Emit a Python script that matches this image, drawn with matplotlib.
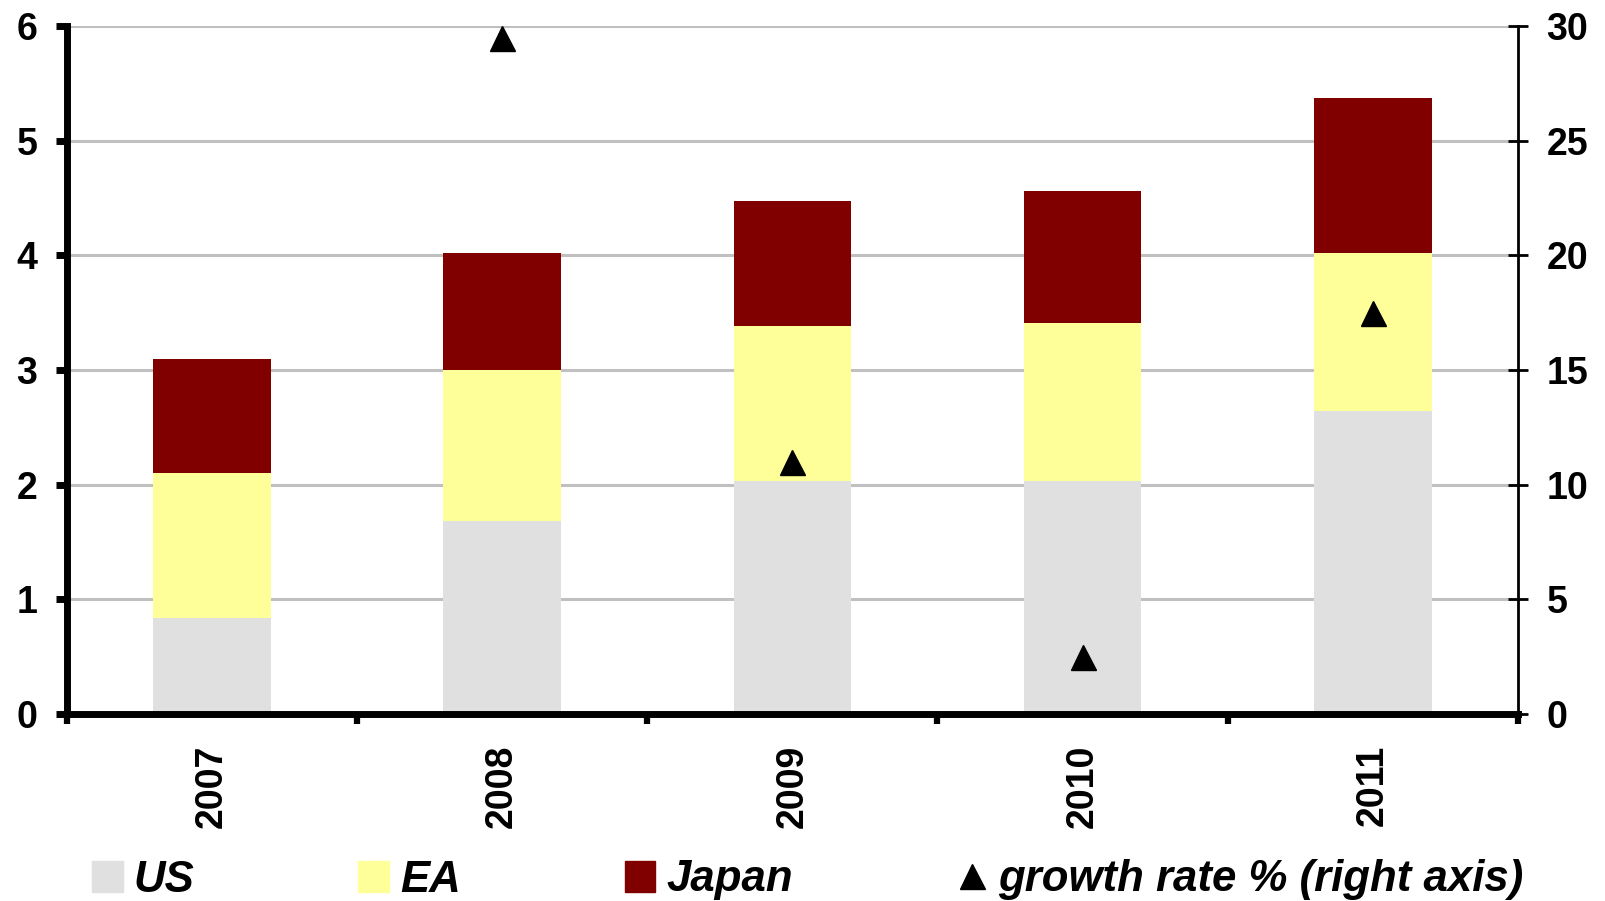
import matplotlib.pyplot as plt
import numpy as np
from matplotlib.patches import Patch
from matplotlib.lines import Line2D

plt.rcParams['font.family'] = ['Liberation Sans', 'DejaVu Sans']
plt.rcParams['font.weight'] = 'bold'

# Contributions by region (left axis) and total growth rate (right axis)
years = ['2007', '2008', '2009', '2010', '2011']
us = [0.84, 1.68, 2.03, 2.03, 2.64]
ea = [1.26, 1.32, 1.35, 1.38, 1.38]
japan = [1.00, 1.02, 1.09, 1.15, 1.35]
growth = [np.nan, 29.5, 11.0, 2.5, 17.5]

c_us = '#E0E0E0'
c_ea = '#FFFF99'
c_jp = '#800000'

fig = plt.figure(figsize=(16.06, 9.01), dpi=100)
ax = fig.add_axes([0.0415, 0.2075, 0.9037, 0.7636])

x = np.arange(len(years))
us_a = np.array(us)
ea_a = np.array(ea)
w = 0.405
ax.bar(x, us_a, width=w, color=c_us, zorder=2)
ax.bar(x, ea_a, width=w, bottom=us_a, color=c_ea, zorder=2)
ax.bar(x, japan, width=w, bottom=us_a + ea_a, color=c_jp, zorder=2)

ax.set_xlim(-0.5, len(years) - 0.5)
ax.set_ylim(0, 6)
ax.set_yticks(range(0, 7))
ax.yaxis.grid(True, color='#C0C0C0', linewidth=2.2)
ax.set_axisbelow(True)

# year labels centred under bars, tick marks on category boundaries
ax.set_xticks(x)
ax.set_xticklabels(years, rotation=90, fontsize=27, fontweight='bold')
ax.tick_params(axis='x', which='major', length=0, pad=22)
ax.set_xticks(np.arange(-0.5, len(years)), minor=True)
ax.tick_params(axis='x', which='minor', length=7, width=4.5, direction='out')
ax.tick_params(axis='y', length=8, width=5, direction='out', labelsize=27, pad=13)

for s in ['top', 'right']:
    ax.spines[s].set_visible(False)
ax.spines['left'].set_linewidth(5)
ax.spines['bottom'].set_linewidth(5)

# growth rate on the right axis
ax2 = ax.twinx()
ax2.set_ylim(0, 30)
ax2.set_yticks(range(0, 31, 5))
ax2.tick_params(axis='y', direction='inout', length=15, width=2, labelsize=27, pad=13)
for s in ['top', 'left', 'bottom']:
    ax2.spines[s].set_visible(False)
ax2.spines['right'].set_linewidth(2)
ax2.plot(x, growth, linestyle='none', marker='^', markersize=18, color='black', clip_on=False)

handles = [
    Patch(color=c_us, label='US'),
    Patch(color=c_ea, label='EA'),
    Patch(color=c_jp, label='Japan'),
    Line2D([], [], linestyle='none', marker='^', markersize=18, color='black',
           label='growth rate % (right axis)'),
]
fig.legend(handles=handles, loc='center left', bbox_to_anchor=(92 / 1606, 1 - 880 / 901),
           ncol=4, frameon=False, borderpad=0, borderaxespad=0,
           handlelength=0.7, handleheight=0.7, handletextpad=0.25, columnspacing=3.75,
           prop={'size': 31.5, 'weight': 'bold', 'style': 'italic'})

fig.savefig('out.png', dpi=100)
